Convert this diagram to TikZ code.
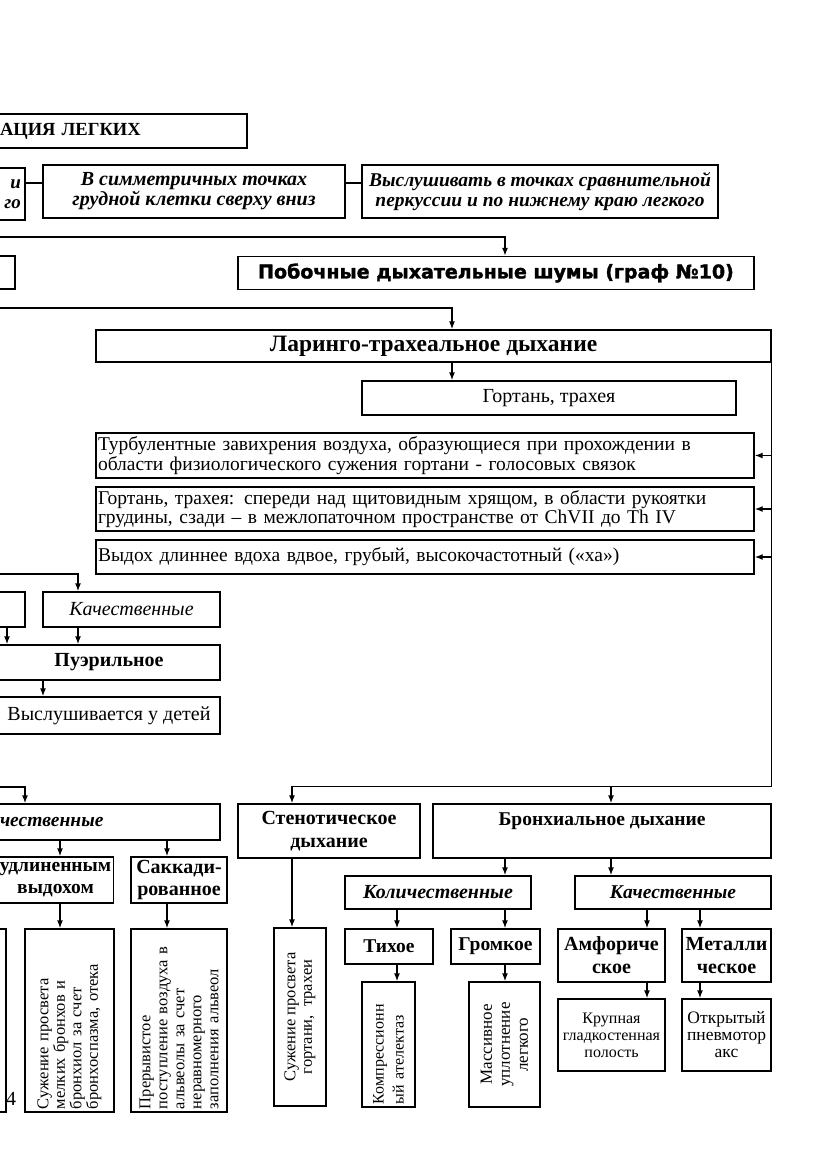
\documentclass[tikz,border=0pt]{standalone}
\usepackage{fontspec}
\setmainfont{Liberation Serif}
\newfontfamily\heavysans{DejaVu Sans}[BoldFont={DejaVu Sans Bold}, BoldFeatures={FakeBold=1.6}]
\usetikzlibrary{arrows.meta, positioning}
\newcommand{\fsz}[2]{\fontsize{#1}{#2}\selectfont}

\begin{document}
\begin{tikzpicture}[
        x=1pt, y=-1pt,
        every node/.style={align=center, inner sep=2pt},
        box/.style={draw, line width=1.4pt},
        sz/.style 2 args={minimum width=#1, minimum height=#2},
        vbox/.style={box, rotate=90, font=\fsz{16.5}{16.5}},
        line/.style={line width=1.4pt, -{Latex[length=8pt, width=6pt]}},
        plain/.style={line width=1.4pt},
    ]
    \useasboundingbox (0,0) rectangle (831,1174);
    \clip (0,0) rectangle (831,1174);
    % Nodes: top rows
    \node[box, sz={249}{34}, text width=245, align=left, font=\bfseries\fsz{18.5}{22}] (ausc) at (122.5,131) {АЦИЯ ЛЕГКИХ};
    \node[box, sz={27}{52}, text width=19, inner xsep=4, align=right, font=\bfseries\itshape\fsz{19}{20}] (part1) at (11.5,194) {и\\го};
    \node[box, sz={302}{53}, font=\bfseries\itshape\fsz{20}{20}] (sym) at (194,191.5) {В симметричных точках\\грудной клетки сверху вниз};
    \node[box, sz={356}{53}, font=\bfseries\itshape\fsz{19.5}{20}] (auscr) at (540,191.5) {Выслушивать в точках сравнительной\\перкуссии и по нижнему краю легкого};
    \node[box, sz={17}{33}] (part2) at (6.5,272.5) {};
    \node[box, sz={516}{33}, font=\heavysans\bfseries\fsz{19}{21}] (pob) at (496,273) {Побочные дыхательные шумы (граф №10)};
    % Nodes: laryngo-tracheal branch
    \node[box, sz={675}{32}, font=\bfseries\fsz{23.5}{25}] (lar) at (433.5,346) {Ларинго-трахеальное дыхание};
    \node[box, sz={374}{34}, font=\fsz{20}{22}] (gort) at (549,398) {Гортань, трахея};
    \node[box, sz={658}{45}, text width=654, align=left, font=\fsz{19.5}{19.5}] (turb) at (425,455.5) {Турбулентные завихрения воздуха, образующиеся при прохождении в\\области физиологического сужения гортани - голосовых связок};
    \node[box, sz={658}{44}, text width=654, align=left, font=\fsz{19.5}{19.5}] (gr) at (425,509) {Гортань, трахея: спереди над щитовидным хрящом, в области рукоятки\\грудины, сзади – в межлопаточном пространстве от ChVII до Th IV};
    \node[box, sz={658}{34}, text width=654, align=left, font=\fsz{19.5}{19.5}] (vyd) at (425,557) {Выдох длиннее вдоха вдвое, грубый, высокочастотный («ха»)};
    % Nodes: left column
    \node[box, sz={27}{35}] (part3) at (11.5,609.5) {};
    \node[box, sz={177}{35}, font=\itshape\fsz{20}{22}] (kach1) at (131.5,609.5) {Качественные};
    \node[box, sz={222}{35}, font=\bfseries\fsz{20}{22}] (pue) at (109,662.5) {Пуэрильное};
    \node[box, sz={222}{37}, font=\fsz{20}{22}] (vys) at (109,715.5) {Выслушивается у детей};
    \node[box, sz={222}{36}, text width=218, align=left, font=\bfseries\itshape\fsz{19.5}{21}] (kol1) at (109,822) {чественные};
    \node[box, sz={115}{46}, font=\bfseries\fsz{19.5}{22}] (udl) at (55.5,880) {удлиненным\\выдохом};
    \node[box, sz={96}{46}, font=\bfseries\fsz{20}{22}] (sakk) at (179,880) {Саккади-\\рованное};
    \node[box, sz={8}{183}] (part4) at (2,1020.5) {};
    \node[font=\fsz{20}{22}] (pnum) at (11,1099) {4};
    % rotated boxes: east anchor is the top side
    \node[vbox, sz={183}{89}, text width=177, align=left] (szh1) at (69.5,1020.5) {Сужение просвета\\мелких бронхов и\\бронхиол за счет\\бронхоспазма, отека};
    \node[vbox, sz={183}{96}, text width=177, align=left, font=\fsz{16.5}{17}] (prer) at (179,1020.5) {Прерывистое\\поступление воздуха в\\альвеолы за счет\\неравномерного\\заполнения альвеол};
    % Nodes: stenotic and bronchial breathing
    \node[box, sz={182}{54}, font=\bfseries\fsz{20}{23}] (sten) at (329,831) {Стенотическое\\дыхание};
    \node[vbox, sz={178}{52}] (szh2) at (300,1017) {Сужение просвета\\гортани,\ \ трахеи};
    \node[box, sz={338}{54}, font=\bfseries\fsz{19.5}{23}] (bron) at (602,831) {Бронхиальное дыхание\\\mbox{}};
    \node[box, sz={186}{33}, font=\bfseries\itshape\fsz{20}{21}] (kol2) at (438,892.5) {Количественные};
    \node[box, sz={196}{33}, font=\bfseries\itshape\fsz{19.5}{21}] (kach2) at (673,892.5) {Качественные};
    \node[box, sz={88}{35}, font=\bfseries\fsz{19.5}{21}] (tih) at (389,946.5) {Тихое};
    \node[box, sz={89}{35}, font=\bfseries\fsz{19.5}{21}] (grom) at (495.5,946.5) {Громкое};
    \node[vbox, sz={125}{53}, text width=119, align=left, font=\fsz{16}{20}] (komp) at (388.5,1044.5) {Компрессионн\\ый ателектаз};
    \node[vbox, sz={125}{71}, font=\fsz{17}{18}] (mass) at (504.5,1044.5) {Массивное\\уплотнение\\легкого};
    \node[box, sz={107}{53}, font=\bfseries\fsz{20}{23}] (amf) at (611.5,955.5) {Амфориче\\ское};
    \node[box, sz={89}{53}, font=\bfseries\fsz{20}{23}] (met) at (726.5,955.5) {Металли\\ческое};
    \node[box, sz={107}{72}, font=\fsz{16}{17}] (krup) at (611.5,1035) {Крупная\\гладкостенная\\полость};
    \node[box, sz={89}{72}, font=\fsz{17.5}{17}] (otkr) at (726.5,1035) {Открытый\\пневмотор\\акс};
    % free ends coming from the left
    \coordinate (e1) at (-2,237);
    \coordinate (e2) at (-2,308);
    \coordinate (e3) at (-2,574);
    \coordinate (e4) at (-2,787);
    \coordinate (rt) at ([yshift=17pt]bron.north east);
    % Arrows
    \draw[plain] ([yshift=11pt]part1.east) -- ([yshift=11pt]part1.east -| sym.west);
    \draw[plain] ([yshift=8.5pt]sym.east) -- ([yshift=8.5pt]sym.east -| auscr.west);
    \draw[line] (e1) -| ([xshift=9pt]pob.north);
    \draw[line] (e2) -| ([xshift=18.5pt]lar.north);
    \draw[line] ([xshift=18.5pt]lar.south) -- ([xshift=18.5pt]lar.south |- gort.north);
    \draw[line] (lar.north east) -- (rt) -| ([xshift=-37pt]sten.north);
    \draw[line] ([xshift=9pt]bron.north |- rt) -- ([xshift=9pt]bron.north);
    \draw[line] (lar.east |- turb.east) -- (turb.east);
    \draw[line] (lar.east |- gr.east) -- (gr.east);
    \draw[line] (lar.east |- vyd.east) -- (vyd.east);
    \draw[line] (e3) -| ([xshift=-53.5pt]kach1.north);
    \draw[line] ([xshift=-4.5pt]part3.south) -- ([xshift=-4.5pt]part3.south |- pue.north);
    \draw[line] ([xshift=-53.5pt]kach1.south) -- ([xshift=-53.5pt]kach1.south |- pue.north);
    \draw[line] ([xshift=-66pt]pue.south) -- ([xshift=-66pt]pue.south |- vys.north);
    \draw[line] (e4) -| ([xshift=-84pt]kol1.north);
    \draw[line] ([xshift=-49pt]kol1.south) -- ([xshift=-49pt]kol1.south |- udl.north);
    \draw[line] ([xshift=58pt]kol1.south) -- ([xshift=58pt]kol1.south |- sakk.north);
    \draw[line] ([xshift=4.5pt]udl.south) -- ([xshift=4.5pt]udl.south |- szh1.east);
    \draw[line] ([xshift=-12pt]sakk.south) -- ([xshift=-12pt]sakk.south |- prer.east);
    \draw[line] ([xshift=-37pt]sten.south) -- ([xshift=-37pt]sten.south |- szh2.east);
    \draw[line] ([xshift=-97pt]bron.south) -- ([xshift=-97pt]bron.south |- kol2.north);
    \draw[line] ([xshift=9pt]bron.south) -- ([xshift=9pt]bron.south |- kach2.north);
    \draw[line] ([xshift=-41pt]kol2.south) -- ([xshift=-41pt]kol2.south |- tih.north);
    \draw[line] ([xshift=67pt]kol2.south) -- ([xshift=67pt]kol2.south |- grom.north);
    \draw[line] ([xshift=8pt]tih.south) -- ([xshift=8pt]tih.south |- komp.east);
    \draw[line] ([xshift=9.5pt]grom.south) -- ([xshift=9.5pt]grom.south |- mass.east);
    \draw[line] ([xshift=-26pt]kach2.south) -- ([xshift=-26pt]kach2.south |- amf.north);
    \draw[line] ([xshift=27pt]kach2.south) -- ([xshift=27pt]kach2.south |- met.north);
    \draw[line] ([xshift=35.5pt]amf.south) -- ([xshift=35.5pt]amf.south |- krup.north);
    \draw[line] ([xshift=-26.5pt]met.south) -- ([xshift=-26.5pt]met.south |- otkr.north);
\end{tikzpicture}
\end{document}
